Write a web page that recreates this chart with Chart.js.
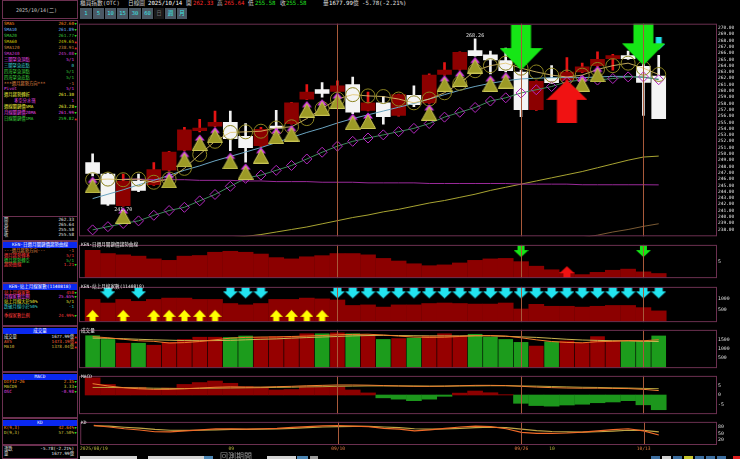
<!DOCTYPE html>
<html>
<head>
<meta charset="utf-8">
<script src="https://cdn.jsdelivr.net/npm/chart.js@4.4.1/dist/chart.umd.min.js"></script>
<style>
  html, body { margin:0; padding:0; background:#000; }
  body { width:740px; height:459px; overflow:hidden; position:relative;
         font-family:"DejaVu Sans Mono","Noto Sans CJK TC",monospace; color:#d0d0d0; }
  .t { position:absolute; white-space:nowrap; line-height:6px; }
  .box { position:absolute; border:1px solid #6b3050; box-sizing:border-box; }
  .cap { position:absolute; left:3px; width:74px; height:6px; background:#0a28f0; color:#fff;
         font-size:4.5px; line-height:6px; text-align:center; white-space:nowrap; }
  .btn { position:absolute; top:8px; height:11px; background:#4a5864; color:#3ee6e6;
         font-size:5.5px; line-height:11px; text-align:center; }
  canvas { position:absolute; left:79px; }
</style>
</head>
<body>

<canvas id="cPrice" width="661" height="220" style="top:20px"></canvas>
<canvas id="cTrend" width="661" height="41" style="top:241px"></canvas>
<canvas id="cBreadth" width="661" height="43" style="top:283px"></canvas>
<canvas id="cVol" width="661" height="46" style="top:326px"></canvas>
<canvas id="cMacd" width="661" height="46" style="top:372px"></canvas>
<canvas id="cKd" width="661" height="35" style="top:418px"></canvas>

<script>
// ---- data ----
const open  = [248.6,246.8,241.8,245.7,245.1,247.4,250.6,253.7,254.4,255.0,252.8,251.3,254.4,254.8,258.7,260.2,259.9,261.0,256.9,258.1,256.1,259.3,258.1,262.6,263.4,266.4,265.7,264.8,263.0,257.0,262.0,261.7,263.0,264.0,265.1,265.6,263.9,262.33];
const high  = [250.0,247.0,246.8,246.8,248.6,250.4,254.2,255.5,256.8,256.8,254.8,254.2,256.9,258.2,261.0,261.3,261.6,262.2,259.8,259.1,259.5,260.8,262.7,264.5,266.2,268.26,266.3,266.8,263.3,261.6,264.0,265.3,264.4,266.2,265.8,266.3,264.3,265.64];
const low   = [246.5,241.84,241.7,244.0,245.0,247.3,250.5,253.5,254.3,250.5,248.7,251.2,253.8,254.7,258.6,259.0,259.8,256.4,256.8,254.7,256.0,257.5,258.0,262.5,263.3,265.5,262.7,263.0,255.9,256.9,261.2,261.6,262.9,263.9,263.3,265.0,256.1,255.58];
const close = [246.9,242.0,245.7,244.2,247.5,250.3,253.8,254.1,255.0,252.4,251.0,253.9,254.1,258.1,259.8,259.6,260.8,256.6,258.1,255.9,259.4,257.8,262.5,263.3,266.1,265.6,264.9,263.2,257.0,261.5,261.3,263.0,263.8,265.0,265.6,265.1,261.36,255.58];

const sma5   = [245.9,246.0,245.9,246.0,245.5,246.0,247.7,249.9,252.0,253.4,253.5,253.6,254.1,254.3,255.6,257.2,258.7,259.4,259.2,259.1,258.7,258.1,258.7,259.7,261.2,263.2,264.0,264.4,263.6,263.0,262.5,262.2,262.5,263.4,264.0,264.4,263.6,262.60];
const sma10  = [242.9,243.6,244.3,245.1,245.8,246.6,247.4,248.1,248.9,249.6,250.3,251.0,251.8,252.6,253.4,254.1,254.9,255.6,256.2,256.8,257.4,258.0,258.7,259.4,260.1,260.7,261.2,261.6,261.9,262.0,262.1,262.1,262.1,262.2,262.3,262.3,262.1,261.89];
const sma20  = [237.94,238.45,238.96,239.37,240.25,241.01,241.52,242.55,243.56,244.85,246.12,246.63,247.39,248.16,249.19,250.26,251.23,251.99,252.52,253.02,253.53,254.05,254.82,255.83,256.60,257.36,258.39,258.90,259.66,260.18,260.69,261.46,261.72,261.72,261.96,262.22,262.22,261.77];
const sma60  = [null,null,null,null,null,null,null,null,null,236.7,236.9,237.2,237.6,238.0,238.4,238.9,239.4,239.9,240.3,240.8,241.2,241.7,242.2,242.6,243.1,243.6,244.2,244.7,245.2,245.7,246.2,246.7,247.2,247.8,248.4,249.0,249.5,249.65];
const sma120 = [null,null,null,null,null,null,null,null,null,null,null,null,null,null,null,null,null,null,null,null,null,null,null,null,null,null,null,null,null,null,null,236.3,236.7,237.1,237.6,238.0,238.5,238.91];
const sma240 = [null,null,246.0,246.0,245.9,245.9,245.9,245.8,245.8,245.8,245.7,245.7,245.6,245.6,245.6,245.5,245.5,245.5,245.4,245.4,245.4,245.4,245.3,245.3,245.3,245.3,245.3,245.3,245.2,245.2,245.2,245.2,245.1,245.1,245.1,245.1,245.1,245.08];

// buy marks (triangles) under candles
const buySig = [245.1,null,240.25,null,null,245.86,249.2,251.8,253.0,248.9,247.2,249.8,252.9,253.3,257.1,257.4,258.5,255.1,255.3,null,null,null,256.6,261.2,262.0,264.1,261.2,261.7,null,null,null,null,261.2,262.7,null,null,null,null];
// big arrows on the price panel (value = arrow tip)
const sellBig = [null,null,null,null,null,null,null,null,null,null,null,null,null,null,null,null,null,null,null,null,null,null,null,null,null,null,null,null,263.3,null,null,null,null,null,null,null,264.06,null];
const buyBig  = [null,null,null,null,null,null,null,null,null,null,null,null,null,null,null,null,null,null,null,null,null,null,null,null,null,null,null,null,null,null,null,261.75,null,null,null,null,null,null];
const warnSig = [null,null,null,null,null,null,null,null,null,null,null,null,null,null,null,null,null,null,null,null,null,null,null,null,null,null,null,null,null,null,null,null,null,null,null,null,null,266.5];

const trend     = [8.5,7.5,7.1,6.7,5.85,5.4,6.7,6.9,7.9,8.2,7.9,7.35,6.25,5.85,6.5,6.85,7.5,7.5,7.1,6.0,5.2,4.35,3.75,4.0,4.6,5.4,5.85,6.0,5.0,3.6,2.5,1.7,1.0,1.7,2.35,2.7,1.85,1.35];
const trendDown = [null,null,null,null,null,null,null,null,null,null,null,null,null,null,null,null,null,null,null,null,null,null,null,null,null,null,null,null,6.4,null,null,null,null,null,null,null,6.4,null];
const trendUp   = [null,null,null,null,null,null,null,null,null,null,null,null,null,null,null,null,null,null,null,null,null,null,null,null,null,null,null,null,null,null,null,3.6,null,null,null,null,null,null];

const breadth   = [953,796,953,868,953,1011,1011,953,953,775,714,775,953,953,1011,976,930,690,714,618,714,714,775,796,775,750,750,796,536,740,654,654,618,654,690,690,596,453];
const breadthDn = [null,1000,null,1000,null,null,null,null,null,1000,1000,1000,null,null,null,null,1000,1000,1000,1000,1000,1000,1000,1000,1000,1000,1000,1000,1000,1000,1000,1000,1000,1000,1000,1000,1000,1000];
const breadthUp = [500,null,500,null,500,500,500,500,500,null,null,null,500,500,500,500,null,null,null,null,null,null,null,null,null,null,null,null,null,null,null,null,null,null,null,null,null,null];

const vol   = [1690,1490,1287,1287,1180,1333,1490,1610,1610,1597,1675,1597,1643,1643,1796,1796,1843,1796,1722,1490,1537,1565,1675,1796,1675,1768,1610,1490,1333,1134,1365,1412,1305,1643,1412,1380,1380,1678];
const volMa5  = [1640,1580,1500,1420,1390,1300,1320,1380,1470,1560,1600,1620,1625,1650,1670,1700,1740,1760,1770,1730,1670,1620,1600,1610,1650,1690,1700,1670,1580,1470,1380,1330,1310,1370,1390,1430,1420,1473];
const volMa10 = [1560,1550,1530,1500,1470,1450,1430,1420,1430,1440,1470,1500,1520,1560,1590,1620,1650,1680,1700,1710,1700,1690,1680,1680,1680,1690,1680,1660,1630,1600,1550,1500,1460,1440,1420,1410,1390,1378];

const osc = [9.1,5.6,4.1,4.1,2.9,3.7,5.6,6.6,7.4,6.2,4.4,3.7,2.65,2.9,4.4,4.4,4.4,2.65,1.1,-1.5,-2.2,-3.0,-2.2,-0.7,1.0,2.1,1.2,0.2,-4.4,-5.6,-5.9,-5.3,-4.9,-4.1,-3.7,-3.0,-5.2,-7.8];
const dif = [6.0,4.8,3.9,3.3,3.0,3.0,3.3,3.7,4.1,4.3,4.2,4.2,4.4,4.6,4.9,5.1,5.3,5.3,5.2,5.0,4.8,4.6,4.6,4.7,4.9,5.1,5.1,5.0,4.6,4.2,3.9,3.7,3.6,3.6,3.5,3.4,3.0,2.35];
const dea = [4.0,4.0,3.9,3.8,3.6,3.5,3.4,3.5,3.6,3.7,3.8,3.9,4.0,4.1,4.3,4.4,4.6,4.7,4.8,4.8,4.8,4.8,4.7,4.7,4.8,4.8,4.9,4.9,4.8,4.7,4.5,4.3,4.1,4.0,3.8,3.7,3.5,3.33];

const kLine = [88,80,72,66,58,57,62,67,71,72,70,72,74,78,82,85,87,84,82,74,70,62,67,74,80,84,82,72,55,50,50,52,56,62,68,72,62,42.64];
const dLine = [86,84,79,75,69,65,64,65,67,69,69,70,71,74,77,80,82,83,83,80,77,72,70,71,74,77,79,77,70,63,59,57,56,58,61,65,64,57.50];

const priceTicks = [238,239,240,241,242,243,244,245,246,247,248,249,250,251,252,253,254,255,256,257,258,259,260,261,262,263,264,265,266,267,268,269,270];
const dateTicks  = [0, 9, 16, 28, 30, 36];
const dateText   = ['2025/08/19', '09', '09/10', '09/26', '10', '10/13'];
const dateColor  = ['#b4b43c', '#b4b43c', '#e07a40', '#e07a40', '#b4b43c', '#e07a40'];
const markDays   = [16, 28, 36];

// ---- helpers ----
Chart.defaults.font.family = '"DejaVu Sans Mono", monospace';
Chart.defaults.font.size = 5;
const X_MIN = -0.89, X_MAX = 40.81;
const idx = close.map((_, i) => i);
const xy = arr => arr.map((v, i) => ({ x: i, y: v }));
const candleUp = i => close[i] >= open[i];
const dayUp = i => i === 0 ? candleUp(0) : close[i] >= close[i - 1];

function xScale(show) {
  const s = { type: 'linear', min: X_MIN, max: X_MAX, offset: false, display: show,
              grid: { display: false, drawTicks: false }, border: { display: false } };
  if (show) {
    s.afterFit = sc => { sc.height = 8; };
    s.afterBuildTicks = sc => { sc.ticks = dateTicks.map(v => ({ value: v })); };
    s.ticks = { autoSkip: false, maxRotation: 0, padding: 1, font: { size: 4.6 },
                callback: v => dateText[dateTicks.indexOf(v)],
                color: c => dateColor[c.index] };
  }
  return s;
}

function yScale(min, max, ticks, fmt, size) {
  return { position: 'right', min: min, max: max, beginAtZero: false,
           grid: { display: false, drawTicks: false }, border: { display: false },
           afterFit: sc => { sc.width = 23; },
           afterBuildTicks: sc => { sc.ticks = ticks.map(v => ({ value: v })); },
           ticks: { autoSkip: false, padding: 1, color: '#e0e0e0', font: { size: size },
                    callback: fmt || (v => String(v)) } };
}

const frameLines = {
  id: 'frameLines',
  afterDatasetsDraw(chart) {
    const { ctx, chartArea: a, scales: { x } } = chart;
    ctx.save();
    ctx.lineWidth = 1;
    ctx.strokeStyle = '#a8593a';
    markDays.forEach(d => {
      const px = Math.round(x.getPixelForValue(d)) + 0.5;
      ctx.beginPath(); ctx.moveTo(px, a.top); ctx.lineTo(px, a.bottom); ctx.stroke();
    });
    ctx.strokeStyle = '#6b3050';
    ctx.strokeRect(a.left + 0.5, a.top + 0.5, a.width - 1, a.height - 1);
    ctx.restore();
  }
};

// value labels at the highest high and lowest low
const extremes = {
  id: 'extremes',
  afterDatasetsDraw(chart) {
    const { ctx, scales: { x, y } } = chart;
    const hi = high.indexOf(Math.max(...high));
    const lo = low.indexOf(Math.min(...low));
    ctx.save();
    ctx.fillStyle = '#e8e8e8';
    ctx.font = '5px "DejaVu Sans Mono"';
    ctx.textAlign = 'center';
    ctx.textBaseline = 'bottom';
    ctx.fillText(high[hi].toFixed(2), x.getPixelForValue(hi), y.getPixelForValue(high[hi]) - 1);
    ctx.textBaseline = 'top';
    ctx.fillText(low[lo].toFixed(2), x.getPixelForValue(lo), y.getPixelForValue(low[lo]) + 1);
    ctx.restore();
  }
};

// point images, drawn so that the arrow tip sits at the point centre
function arrow(w, h, headH, shaftW, color, down) {
  const c = document.createElement('canvas');
  c.width = w; c.height = h * 2;
  const g = c.getContext('2d');
  g.fillStyle = color;
  const l = (w - shaftW) / 2, r = l + shaftW;
  g.beginPath();
  if (down) {
    g.moveTo(l, 0); g.lineTo(r, 0); g.lineTo(r, h - headH); g.lineTo(w, h - headH);
    g.lineTo(w / 2, h); g.lineTo(0, h - headH); g.lineTo(l, h - headH);
  } else {
    g.moveTo(w / 2, h); g.lineTo(w, h + headH); g.lineTo(r, h + headH); g.lineTo(r, 2 * h);
    g.lineTo(l, 2 * h); g.lineTo(l, h + headH); g.lineTo(0, h + headH);
  }
  g.closePath(); g.fill();
  return c;
}
function buyMark() {
  const c = document.createElement('canvas');
  c.width = 16; c.height = 17;
  const g = c.getContext('2d');
  g.fillStyle = '#d63ce6';
  g.beginPath(); g.moveTo(8, 0.5); g.lineTo(13, 6.5); g.lineTo(3, 6.5); g.closePath(); g.fill();
  g.fillStyle = '#9c9a26'; g.strokeStyle = '#c8c455'; g.lineWidth = 1;
  g.beginPath(); g.moveTo(8, 3); g.lineTo(15.5, 16.5); g.lineTo(0.5, 16.5); g.closePath(); g.fill(); g.stroke();
  return c;
}
function marks(arr, img, order) {
  return { type: 'line', data: xy(arr), showLine: false, pointStyle: img, pointRadius: 2, order: order };
}
function line(arr, color, order, extra) {
  return Object.assign({ type: 'line', data: xy(arr), borderColor: color, borderWidth: 1,
                         pointRadius: 0, tension: 0, order: order }, extra || {});
}
function panel(id, datasets, y, showX, extra) {
  return new Chart(document.getElementById(id), {
    type: 'bar',
    data: { datasets: datasets },
    options: { responsive: false, animation: false, events: [],
               layout: { padding: 0, autoPadding: false },
               plugins: { legend: { display: false }, tooltip: { enabled: false } },
               scales: { x: xScale(showX), y: y } },
    plugins: [frameLines].concat(extra || [])
  });
}

// ---- price panel ----
panel('cPrice', [
  { type: 'bar', data: idx.map(i => ({ x: i, y: [low[i], high[i]] })), grouped: false, barThickness: 2,
    backgroundColor: idx.map(i => candleUp(i) ? '#e41414' : '#f2f2f2'), order: 30 },
  { type: 'bar', data: idx.map(i => ({ x: i, y: [open[i], close[i]] })), grouped: false, barThickness: 14,
    minBarLength: 2, backgroundColor: idx.map(i => candleUp(i) ? '#8c0000' : '#f4f4f4'), order: 29 },
  line(sma240, '#9a2a9a', 20),
  line(sma120, '#7a5a34', 20),
  line(sma60, '#a8a432', 20),
  line(sma10, '#6aa4c0', 19),
  line(sma20, '#3e8a5c', 18, { pointStyle: 'rectRot', pointRadius: 5, pointBorderColor: '#b428c0',
                               pointBackgroundColor: 'rgba(0,0,0,0)', pointBorderWidth: 1 }),
  line(sma5, 'rgba(226,196,110,0.85)', 17, { pointStyle: 'circle', pointRadius: 7, pointBorderColor: '#8c8420',
                               pointBackgroundColor: 'rgba(0,0,0,0)', pointBorderWidth: 1 }),
  marks(buySig, buyMark(), 10),
  marks(warnSig, arrow(13, 13, 6, 6, '#22e0ea', true), 6),
  marks(sellBig, arrow(43, 45, 22, 20, '#16e616', true), 5),
  marks(buyBig, arrow(41, 43, 20, 20, '#f01212', false), 5)
], yScale(236.92, 270.66, priceTicks, v => v.toFixed(2), 4.5), false, [extremes]);

// ---- trend panel ----
panel('cTrend', [
  { type: 'bar', data: xy(trend), barThickness: 15, backgroundColor: '#8c0000', order: 10 },
  marks(trendDown, arrow(15, 14, 7, 7, '#16e616', true), 2),
  marks(trendUp, arrow(15, 14, 7, 7, '#f01212', false), 2)
], yScale(-0.075, 10.175, [5], null, 4.8), false);

// ---- breadth panel ----
panel('cBreadth', [
  { type: 'bar', data: xy(breadth), barThickness: 15, backgroundColor: '#8c0000', order: 10 },
  marks(breadthDn, arrow(15, 14, 7, 8, '#22e4f0', true), 2),
  marks(breadthUp, arrow(13, 14, 7, 6, '#ffff00', false), 2)
], yScale(-36, 1500, [500, 1000], null, 4.8), false);

// ---- volume panel ----
panel('cVol', [
  { type: 'bar', data: xy(vol), barThickness: 14,
    backgroundColor: idx.map(i => dayUp(i) ? '#960000' : '#1c9c1c'), order: 10 },
  line(volMa10, '#c8b450', 5),
  line(volMa5, '#f07a2a', 4)
], yScale(-49, 2004, [500, 1000, 1500], null, 4.8), false);

// ---- MACD panel ----
panel('cMacd', [
  { type: 'bar', data: xy(osc), barThickness: 15,
    backgroundColor: osc.map(v => v >= 0 ? '#8c0000' : '#1c961c'), order: 10 },
  line(dea, '#b4a03c', 5),
  line(dif, '#f08232', 4)
], yScale(-10.13, 10.13, [-5, 0, 5], null, 4.8), false);

// ---- KD panel with the date axis ----
panel('cKd', [
  line(dLine, '#bfa545', 5, { borderWidth: 1.2 }),
  line(kLine, '#f06a28', 4, { borderWidth: 1.2 })
], yScale(-4, 104, [20, 50, 80], null, 4.8), true);

// ---- text around the charts ----
function txt(x, y, s, color, size, right) {
  const d = document.createElement('div');
  d.className = 't';
  d.style.top = y + 'px';
  d.style.color = color;
  d.style.fontSize = (size || 4.3) + 'px';
  if (right) d.style.right = (740 - x) + 'px'; else d.style.left = x + 'px';
  d.textContent = s;
  document.body.appendChild(d);
  return d;
}
function box(x, y, w, h) {
  const d = document.createElement('div');
  d.className = 'box';
  Object.assign(d.style, { left: x + 'px', top: y + 'px', width: w + 'px', height: h + 'px' });
  document.body.appendChild(d);
}
function cap(y, s) {
  const d = document.createElement('div');
  d.className = 'cap'; d.style.top = y + 'px'; d.textContent = s;
  document.body.appendChild(d);
}
function rows(top, step, list) {
  list.forEach((r, k) => {
    const y = top + k * step;
    txt(r[4] ? 14 : 4, y, r[0], r[1]);
    txt(74, y, r[2], r[1], 4.3, true);
    if (r[3]) txt(74.5, y, r[3] > 0 ? '▲' : '▼', r[3] > 0 ? '#ff2a2a' : '#22e022', 3.6);
  });
}

[[2,0,76,19],[2,20,76,221],[2,241,76,42],[2,283,76,43],[2,326,76,46],[2,372,76,46],[2,418,76,27],[2,445,76,14]]
  .forEach(b => box(b[0], b[1], b[2], b[3]));
box(2, 216, 76, 25);

txt(16, 6.5, '2025/10/14(二)', '#c8c8c8', 5);

rows(21, 5.95, [
  ['SMA5', '#ff8a1c', '262.60', -1], ['SMA10', '#6cb4ff', '261.89', -1], ['SMA20', '#3cc83c', '261.77', -1],
  ['SMA60', '#d2c800', '249.65', 1], ['SMA120', '#d08a3c', '238.91', 1], ['SMA240', '#d23cd2', '245.08', -1],
  ['三關緊急頂點', '#e646e6', '5/1', 0], ['三關緊急底點', '#3cd2d2', '0', 0],
  ['四海緊急頂點', '#3cd23c', '5/1', 0], ['四海緊急底點', '#3cd23c', '5/1', 0],
  ['***週月趨勢方向***', '#e08a46', '-1', 0], ['Pivot', '#e646e6', '5/1', 0],
  ['週月趨勢轉折', '#f0f03c', '261.30', 0], ['多空分水嶺', '#e646e6', '1', 0, true],
  ['週線關鍵價5MA', '#f0f03c', '263.28', -1], ['月線關鍵價20MA', '#e646e6', '261.99', -1],
  ['日線關鍵價1MA', '#3cd23c', '259.82', 1]
]);
rows(217, 5, [['開', '#e0e0e0', '262.33', 0], ['高', '#e0e0e0', '265.64', 0],
              ['低', '#e0e0e0', '255.58', 0], ['收', '#e0e0e0', '255.58', 0]]);

cap(242, 'KEN-日週月關鍵價趨勢曲線');
rows(248, 4.8, [['---週月趨勢方向---', '#e08a46', '-1', 0], ['週月趨勢轉多', '#ff3c3c', '5/1', 0],
                ['週月趨勢轉空', '#3cd23c', '5/1', 0], ['趨勢曲線', '#ff3c3c', '1.21', -1]]);

cap(284, 'KEN-站上月線家數(1140818)');
rows(289.5, 4.7, [['站上月線家數', '#ff3c3c', '458', -1], ['月線家數比例', '#e646e6', '25.65%', -1],
                  ['站上月線大於50%', '#f0f03c', '5/1', 0], ['跌破月線小於50%', '#3cd2d2', '-1', 0]]);
rows(312.5, 5, [['季線家數比例', '#ff3c3c', '24.99%', -1]]);

cap(327.5, '成交量');
rows(333.5, 5.2, [['成交量', '#e8e8e8', '1677.99億', 1], ['AV5', '#ff6a3c', '1473.19億', 1],
                  ['MA10', '#d2b43c', '1378.04億', 1]]);

cap(373.5, 'MACD');
rows(379, 5.2, [['DIF12-26', '#ff8a1c', '2.35', -1], ['MACD9', '#d2c83c', '3.33', -1],
                ['OSC', '#e646e6', '-0.98', -1]]);

cap(420, 'KD');
rows(425, 4.6, [['K(9,3)', '#ff8a1c', '42.64%', -1], ['D(9,3)', '#d2c83c', '57.50%', -1]]);

rows(446, 5, [['漲跌', '#e8e8e8', '-5.78(-2.21%)', 0], ['量', '#e8e8e8', '1677.99億', 0]]);

// titles inside the plots
txt(81, 242, 'KEN-日週月關鍵價趨勢曲線', '#e8e8e8', 4.6);
txt(81, 284, 'KEN-站上月線家數(1140818)', '#e8e8e8', 4.6);
txt(81, 327.5, '成交量', '#e8e8e8', 4.6);
txt(81, 373.5, 'MACD', '#e8e8e8', 4.6);
txt(81, 420, 'KD', '#e8e8e8', 4.6);

// header line
[[80,'櫃買指數(OTC)','#cfcfcf'],[128,'日線圖','#cfcfcf'],[148,'2025/10/14','#ffffff'],
 [186,'開','#cfcfcf'],[193,'262.33','#ff2a2a'],[217,'高','#cfcfcf'],[224,'265.64','#ff2a2a'],
 [248,'低','#cfcfcf'],[255,'255.58','#22e022'],[280,'收','#cfcfcf'],[286,'255.58','#22e022'],
 [323,'量','#cfcfcf'],[329,'1677.99','#ffffff'],[353,'億','#cfcfcf'],[362,'-5.78(-2.21%)','#e0e0e0']]
  .forEach(h => txt(h[0], -0.5, h[1], h[2], 5.7));

// period buttons
[[80,12,'1'],[93,11,'5'],[105,11,'10'],[117,11,'15'],[129,12,'30'],[142,11,'60'],[154,10,'日'],[165,11,'週'],[177,10,'月']]
  .forEach(b => {
    const d = document.createElement('div');
    d.className = 'btn';
    Object.assign(d.style, { left: b[0] + 'px', width: b[1] + 'px' });
    if (b[2] === '日') { d.style.background = '#1a1a1a'; d.style.color = '#707070'; }
    d.textContent = b[2];
    document.body.appendChild(d);
  });

// bottom toolbar
[[80,456,57,3,'#d4d4d4'],[148,456,56,3,'#d4d4d4'],[204,456,9,3,'#4c86b4'],[267,456,29,3,'#d4d4d4'],
 [297,456,11,3,'#4c86b4'],[310,456,8,3,'#9a9a9a'],
 [651,456,9,3,'#3c6ea0'],[662,456,9,3,'#d0d0d0'],[673,456,9,3,'#3c6ea0'],[684,456,9,3,'#c8c830'],
 [695,456,9,3,'#3c6ea0'],[706,456,9,3,'#3c6ea0'],[717,456,9,3,'#3c6ea0'],[733,456,7,3,'#e02020']]
  .forEach(r => {
    const d = document.createElement('div');
    Object.assign(d.style, { position: 'absolute', left: r[0] + 'px', top: r[1] + 'px',
                             width: r[2] + 'px', height: r[3] + 'px', background: r[4] });
    document.body.appendChild(d);
  });
txt(220, 451.5, '回測期間', '#9a9a9a', 8).style.lineHeight = '9px';
</script>
</body>
</html>
